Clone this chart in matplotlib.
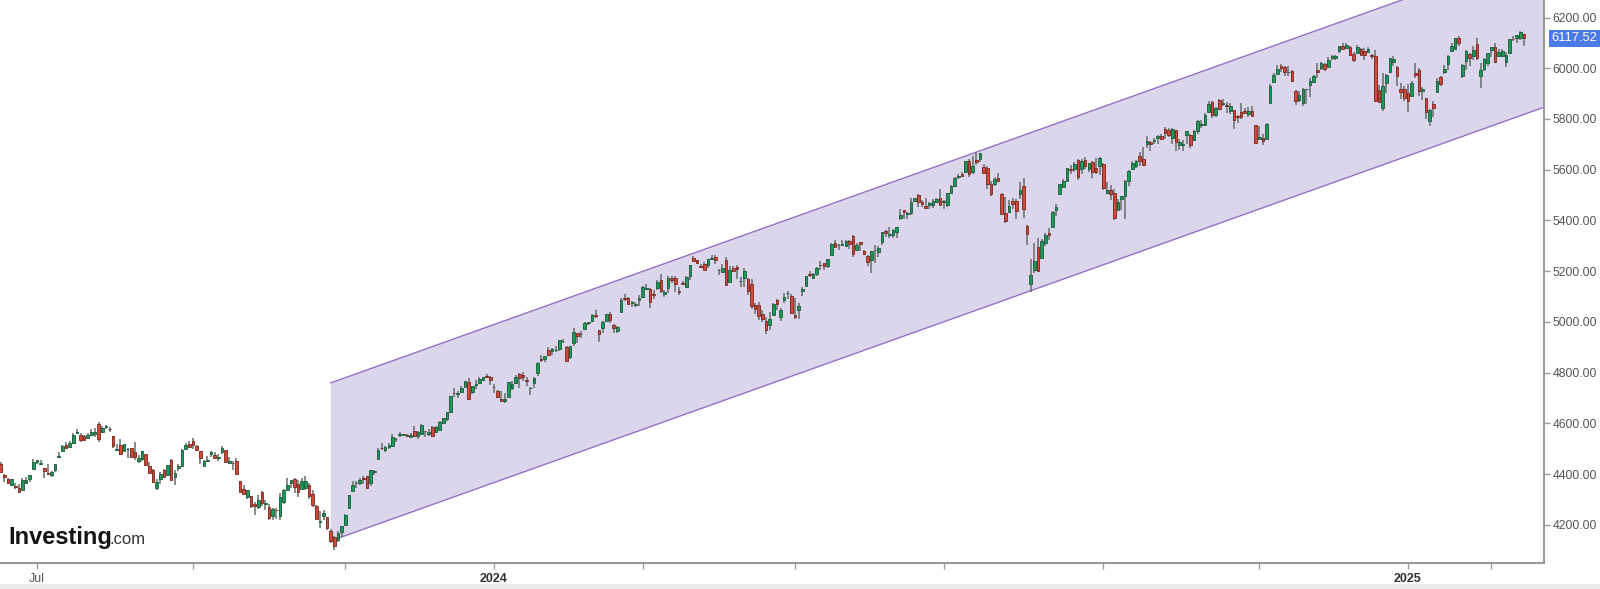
import numpy as np
import pandas as pd
import matplotlib
matplotlib.use("Agg")
import matplotlib.pyplot as plt
import matplotlib.transforms as mtransforms
from matplotlib.patches import Rectangle

plt.rcParams['font.family'] = ['Liberation Sans', 'DejaVu Sans']

# daily candles (open, high, low, close), estimated from the chart
jun_2023 = [(4440, 4449, 4407, 4410), (4396, 4401, 4371, 4389), (4380, 4386, 4360, 4366),
            (4356, 4382, 4352, 4382), (4355, 4367, 4341, 4348), (4344, 4363, 4328, 4328),
            (4337, 4384, 4336, 4378), (4367, 4390, 4360, 4376), (4383, 4398, 4371, 4396),
            (4422, 4458, 4422, 4450)]
jul_2023 = [(4450, 4456, 4442, 4455), (4442, 4454, 4436, 4446), (4423, 4423, 4385, 4411),
            (4405, 4440, 4398, 4399), (4395, 4412, 4389, 4409), (4416, 4440, 4408, 4439),
            (4467, 4488, 4463, 4472), (4492, 4517, 4490, 4510), (4514, 4527, 4500, 4505),
            (4508, 4532, 4504, 4522), (4522, 4562, 4519, 4555), (4563, 4578, 4557, 4566),
            (4554, 4564, 4527, 4534), (4550, 4555, 4532, 4536), (4543, 4564, 4541, 4554),
            (4555, 4580, 4552, 4567), (4558, 4582, 4547, 4566), (4598, 4607, 4528, 4537),
            (4565, 4590, 4563, 4582), (4585, 4595, 4580, 4589)]
aug_2023 = [(4578, 4585, 4567, 4577), (4551, 4551, 4505, 4513), (4494, 4520, 4490, 4501),
            (4514, 4540, 4474, 4478), (4492, 4520, 4491, 4518), (4498, 4503, 4464, 4499),
            (4502, 4502, 4462, 4468), (4488, 4527, 4457, 4469), (4451, 4476, 4444, 4464),
            (4459, 4490, 4453, 4490), (4479, 4479, 4433, 4437), (4434, 4449, 4404, 4404),
            (4416, 4421, 4365, 4370), (4344, 4382, 4336, 4370), (4380, 4408, 4360, 4400),
            (4416, 4419, 4384, 4388), (4397, 4437, 4397, 4436), (4456, 4458, 4375, 4376),
            (4389, 4418, 4356, 4406), (4426, 4440, 4412, 4433), (4433, 4500, 4431, 4497),
            (4501, 4522, 4497, 4514), (4518, 4532, 4507, 4508)]
sep_2023 = [(4531, 4541, 4501, 4516), (4510, 4514, 4496, 4497), (4490, 4490, 4442, 4465),
            (4434, 4457, 4431, 4451), (4451, 4473, 4449, 4457), (4480, 4490, 4468, 4487),
            (4474, 4487, 4460, 4462), (4462, 4479, 4453, 4468), (4487, 4511, 4478, 4505),
            (4497, 4497, 4448, 4450), (4445, 4467, 4442, 4453), (4445, 4451, 4417, 4444),
            (4452, 4462, 4402, 4402), (4375, 4375, 4329, 4330), (4342, 4357, 4317, 4320),
            (4311, 4339, 4303, 4337), (4313, 4315, 4265, 4274), (4282, 4292, 4239, 4275),
            (4270, 4318, 4264, 4300), (4328, 4333, 4274, 4288)]
oct_2023 = [(4284, 4300, 4260, 4288), (4269, 4281, 4220, 4229), (4234, 4268, 4220, 4263),
            (4260, 4268, 4225, 4258), (4234, 4324, 4219, 4309), (4289, 4341, 4284, 4336),
            (4339, 4385, 4339, 4358), (4367, 4378, 4346, 4377), (4381, 4385, 4325, 4350),
            (4360, 4377, 4311, 4328), (4342, 4384, 4342, 4374), (4346, 4394, 4338, 4374),
            (4357, 4364, 4304, 4315), (4321, 4339, 4269, 4278), (4274, 4277, 4223, 4224),
            (4210, 4255, 4189, 4217), (4235, 4259, 4219, 4248), (4232, 4232, 4181, 4186),
            (4175, 4183, 4127, 4137), (4152, 4157, 4103, 4117), (4140, 4178, 4132, 4167),
            (4172, 4194, 4153, 4194)]
nov_2023 = [(4201, 4245, 4197, 4238), (4268, 4319, 4268, 4318), (4335, 4373, 4334, 4358),
            (4365, 4372, 4347, 4366), (4366, 4386, 4356, 4378), (4385, 4391, 4360, 4383),
            (4391, 4394, 4344, 4347), (4364, 4418, 4354, 4415), (4407, 4415, 4396, 4412),
            (4458, 4504, 4458, 4496), (4505, 4522, 4494, 4503), (4497, 4511, 4486, 4509),
            (4509, 4521, 4499, 4514), (4511, 4557, 4511, 4547), (4538, 4542, 4526, 4538),
            (4553, 4568, 4545, 4557), (4555, 4560, 4553, 4559), (4555, 4560, 4545, 4551),
            (4546, 4562, 4541, 4555), (4571, 4588, 4547, 4551), (4549, 4570, 4537, 4568)]
dec_2023 = [(4560, 4596, 4557, 4595), (4570, 4572, 4546, 4569), (4557, 4579, 4552, 4567),
            (4587, 4590, 4547, 4549), (4568, 4590, 4565, 4585), (4576, 4610, 4574, 4604),
            (4601, 4623, 4600, 4622), (4618, 4644, 4610, 4644), (4646, 4709, 4643, 4707),
            (4721, 4739, 4704, 4719), (4715, 4726, 4702, 4719), (4725, 4749, 4725, 4740),
            (4743, 4769, 4743, 4768), (4765, 4778, 4697, 4698), (4725, 4749, 4717, 4746),
            (4753, 4772, 4737, 4755), (4758, 4784, 4758, 4775), (4773, 4785, 4768, 4782),
            (4786, 4793, 4780, 4783), (4783, 4789, 4751, 4770)]
jan_2024 = [(4745, 4755, 4722, 4743), (4726, 4730, 4700, 4705), (4698, 4727, 4687, 4688),
            (4690, 4721, 4682, 4697), (4703, 4764, 4699, 4764), (4741, 4766, 4731, 4757),
            (4760, 4791, 4756, 4783), (4793, 4798, 4740, 4780), (4791, 4802, 4768, 4784),
            (4773, 4782, 4748, 4766), (4739, 4744, 4714, 4739), (4761, 4785, 4740, 4780),
            (4797, 4843, 4786, 4840), (4853, 4868, 4844, 4850), (4856, 4866, 4842, 4864),
            (4888, 4903, 4866, 4869), (4886, 4898, 4870, 4894), (4888, 4907, 4881, 4891),
            (4892, 4929, 4887, 4928), (4925, 4932, 4916, 4925), (4900, 4907, 4845, 4846)]
feb_2024 = [(4862, 4906, 4853, 4906), (4916, 4975, 4907, 4959), (4957, 4958, 4918, 4943),
            (4951, 4964, 4938, 4954), (4973, 4999, 4970, 4995), (4996, 5000, 4987, 4998),
            (5005, 5031, 4999, 5027), (5027, 5048, 5016, 5022), (4967, 4969, 4920, 4953),
            (4976, 5002, 4955, 5001), (5004, 5033, 4999, 5030), (5032, 5039, 4995, 5006),
            (4989, 4993, 4956, 4976), (4964, 4984, 4956, 4982), (5039, 5094, 5038, 5087),
            (5093, 5111, 5081, 5089), (5093, 5097, 5068, 5070), (5074, 5081, 5058, 5078),
            (5067, 5077, 5058, 5069), (5085, 5105, 5061, 5096)]
mar_2024 = [(5098, 5141, 5094, 5137), (5131, 5149, 5128, 5131), (5130, 5134, 5056, 5079),
            (5109, 5127, 5092, 5105), (5133, 5165, 5126, 5157), (5165, 5190, 5114, 5124),
            (5112, 5125, 5100, 5117), (5134, 5180, 5116, 5175), (5174, 5180, 5153, 5165),
            (5175, 5180, 5119, 5150), (5124, 5136, 5105, 5117), (5154, 5162, 5145, 5149),
            (5139, 5180, 5138, 5179), (5182, 5225, 5164, 5225), (5253, 5261, 5240, 5241),
            (5243, 5246, 5229, 5234), (5219, 5229, 5216, 5218), (5228, 5236, 5203, 5203),
            (5226, 5249, 5214, 5248), (5248, 5264, 5246, 5254)]
apr_2024 = [(5258, 5263, 5229, 5243), (5204, 5208, 5185, 5205), (5195, 5229, 5194, 5211),
            (5245, 5256, 5146, 5147), (5158, 5222, 5157, 5204), (5212, 5219, 5198, 5202),
            (5218, 5225, 5168, 5209), (5161, 5178, 5139, 5161), (5172, 5212, 5139, 5199),
            (5171, 5175, 5108, 5123), (5150, 5168, 5052, 5061), (5065, 5076, 5033, 5051),
            (5068, 5077, 5007, 5022), (5032, 5046, 5001, 5011), (5005, 5019, 4953, 4967),
            (4988, 5038, 4969, 5010), (5028, 5076, 5028, 5070), (5085, 5089, 5047, 5072),
            (5019, 5057, 5002, 5048), (5085, 5114, 5073, 5100), (5114, 5123, 5089, 5116),
            (5103, 5110, 5035, 5036)]
may_2024 = [(5029, 5096, 5013, 5018), (5049, 5073, 5011, 5064), (5122, 5139, 5101, 5128),
            (5142, 5181, 5142, 5181), (5188, 5200, 5178, 5187), (5173, 5192, 5171, 5188),
            (5190, 5215, 5182, 5214), (5226, 5239, 5204, 5223), (5233, 5234, 5206, 5221),
            (5221, 5250, 5212, 5247), (5264, 5311, 5263, 5308), (5310, 5325, 5296, 5297),
            (5303, 5306, 5283, 5303), (5305, 5325, 5299, 5308), (5298, 5324, 5297, 5321),
            (5320, 5323, 5287, 5307), (5340, 5341, 5257, 5268), (5282, 5311, 5278, 5305),
            (5315, 5315, 5279, 5306), (5278, 5282, 5262, 5267), (5260, 5263, 5222, 5235),
            (5244, 5280, 5192, 5278)]
jun_2024 = [(5283, 5302, 5234, 5283), (5275, 5298, 5257, 5291), (5315, 5355, 5303, 5354),
            (5357, 5362, 5335, 5352), (5344, 5376, 5331, 5347), (5341, 5365, 5331, 5361),
            (5353, 5376, 5332, 5375), (5409, 5447, 5403, 5421), (5441, 5442, 5404, 5434),
            (5424, 5432, 5404, 5431), (5431, 5488, 5421, 5473), (5476, 5490, 5471, 5487),
            (5499, 5506, 5455, 5473), (5471, 5479, 5453, 5464), (5459, 5490, 5447, 5448),
            (5460, 5472, 5446, 5469), (5460, 5483, 5451, 5478), (5474, 5490, 5470, 5483),
            (5488, 5524, 5460, 5460)]
jul_2024 = [(5471, 5479, 5446, 5475), (5462, 5510, 5452, 5509), (5507, 5539, 5507, 5537),
            (5537, 5570, 5531, 5567), (5572, 5583, 5562, 5572), (5584, 5590, 5574, 5577),
            (5591, 5635, 5587, 5633), (5635, 5642, 5571, 5585), (5590, 5655, 5584, 5615),
            (5638, 5670, 5620, 5631), (5644, 5667, 5632, 5667), (5610, 5622, 5584, 5589),
            (5608, 5615, 5523, 5544), (5543, 5557, 5498, 5505), (5544, 5571, 5536, 5564),
            (5566, 5586, 5552, 5555), (5506, 5508, 5424, 5427), (5429, 5491, 5391, 5399),
            (5434, 5481, 5428, 5459), (5477, 5487, 5444, 5464), (5478, 5486, 5404, 5436),
            (5505, 5551, 5485, 5522)]
aug_2024 = [(5537, 5566, 5410, 5446), (5377, 5383, 5302, 5346), (5151, 5250, 5120, 5186),
            (5206, 5312, 5194, 5240), (5294, 5330, 5195, 5199), (5252, 5328, 5251, 5319),
            (5311, 5351, 5300, 5344), (5352, 5372, 5324, 5344), (5376, 5436, 5376, 5434),
            (5443, 5464, 5416, 5455), (5505, 5544, 5503, 5543), (5530, 5562, 5528, 5554),
            (5557, 5608, 5551, 5608), (5602, 5620, 5585, 5597), (5603, 5632, 5592, 5621),
            (5637, 5643, 5561, 5571), (5602, 5641, 5585, 5635), (5640, 5651, 5602, 5616),
            (5602, 5628, 5590, 5625), (5629, 5636, 5567, 5592), (5607, 5646, 5585, 5592),
            (5613, 5651, 5581, 5648)]
sep_2024 = [(5624, 5626, 5520, 5528), (5507, 5553, 5505, 5520), (5521, 5541, 5481, 5503),
            (5507, 5523, 5402, 5408), (5443, 5485, 5443, 5471), (5483, 5497, 5441, 5496),
            (5496, 5560, 5406, 5554), (5557, 5600, 5536, 5596), (5603, 5636, 5602, 5626),
            (5615, 5637, 5605, 5633), (5655, 5671, 5615, 5634), (5641, 5690, 5615, 5618),
            (5703, 5733, 5686, 5713), (5709, 5715, 5675, 5703), (5713, 5725, 5701, 5718),
            (5727, 5736, 5702, 5732), (5734, 5741, 5717, 5722), (5762, 5767, 5722, 5745),
            (5756, 5764, 5730, 5738), (5727, 5765, 5703, 5762)]
oct_2024 = [(5757, 5758, 5675, 5709), (5698, 5720, 5678, 5709), (5698, 5718, 5675, 5700),
            (5737, 5753, 5703, 5751), (5737, 5739, 5684, 5696), (5719, 5757, 5714, 5751),
            (5751, 5797, 5739, 5792), (5778, 5796, 5764, 5780), (5775, 5823, 5774, 5815),
            (5829, 5871, 5825, 5859), (5866, 5871, 5804, 5815), (5816, 5846, 5809, 5843),
            (5875, 5879, 5837, 5841), (5860, 5878, 5851, 5864), (5857, 5867, 5824, 5853),
            (5833, 5864, 5821, 5851), (5835, 5835, 5762, 5797), (5813, 5817, 5784, 5809),
            (5827, 5862, 5800, 5808), (5833, 5843, 5823, 5823), (5819, 5848, 5809, 5832),
            (5832, 5851, 5811, 5813), (5775, 5776, 5702, 5705)]
nov_2024 = [(5723, 5772, 5723, 5729), (5725, 5742, 5696, 5712), (5722, 5784, 5722, 5782),
            (5864, 5936, 5864, 5929), (5947, 5983, 5946, 5973), (5977, 6012, 5976, 5996),
            (6008, 6018, 5987, 6001), (6003, 6010, 5969, 5984), (5985, 6009, 5971, 5985),
            (5989, 5993, 5946, 5949), (5912, 5916, 5854, 5871), (5875, 5910, 5866, 5893),
            (5864, 5923, 5853, 5917), (5917, 5920, 5860, 5917), (5934, 5963, 5886, 5949),
            (5944, 5972, 5942, 5969), (5992, 6020, 5963, 5987), (6000, 6025, 5992, 6021),
            (6015, 6021, 5989, 5999), (6003, 6044, 6003, 6032)]
dec_2024 = [(6041, 6053, 6033, 6047), (6042, 6052, 6031, 6050), (6069, 6089, 6062, 6087),
            (6089, 6099, 6074, 6075), (6081, 6099, 6079, 6090), (6083, 6088, 6048, 6053),
            (6058, 6066, 6024, 6034), (6061, 6092, 6059, 6085), (6074, 6079, 6051, 6051),
            (6068, 6078, 6034, 6051), (6063, 6085, 6059, 6074), (6052, 6057, 6035, 6050),
            (6047, 6071, 5867, 5872), (5913, 5935, 5866, 5867), (5843, 5982, 5832, 5931),
            (5941, 5978, 5903, 5975), (5985, 6040, 5983, 6040), (6025, 6049, 6007, 6037),
            (6006, 6007, 5932, 5971), (5920, 5941, 5880, 5907), (5920, 5930, 5869, 5882)]
jan_2025 = [(5903, 5936, 5829, 5869), (5892, 5950, 5888, 5942), (5982, 6022, 5961, 5975),
            (5994, 6000, 5891, 5909), (5911, 5928, 5875, 5918), (5882, 5882, 5800, 5827),
            (5794, 5838, 5774, 5836), (5859, 5871, 5807, 5843), (5905, 5960, 5905, 5950),
            (5967, 5968, 5931, 5937), (5987, 6011, 5979, 5997), (6015, 6051, 5994, 6049),
            (6068, 6100, 6066, 6086), (6076, 6119, 6074, 6119), (6121, 6128, 6089, 6101),
            (5970, 6017, 5962, 6012), (6027, 6072, 5994, 6068), (6057, 6062, 6007, 6039),
            (6050, 6087, 6031, 6071), (6096, 6121, 6031, 6041)]
feb_2025 = [(5970, 6022, 5924, 5994), (5998, 6042, 5990, 6038), (6020, 6062, 6007, 6061),
            (6073, 6084, 6045, 6084), (6083, 6101, 6020, 6026), (6050, 6074, 6046, 6066),
            (6049, 6076, 6043, 6069), (6025, 6064, 6003, 6052), (6061, 6117, 6061, 6115),
            (6116, 6127, 6108, 6115), (6121, 6130, 6098, 6130), (6118, 6147, 6112, 6144),
            (6134, 6135, 6089, 6117.52)]

months = [jun_2023, jul_2023, aug_2023, sep_2023, oct_2023, nov_2023, dec_2023,
          jan_2024, feb_2024, mar_2024, apr_2024, may_2024, jun_2024, jul_2024,
          aug_2024, sep_2024, oct_2024, nov_2024, dec_2024, jan_2025, feb_2025]

market_holidays = ["2023-06-19", "2023-07-04", "2023-09-04", "2023-11-23", "2023-12-25",
                   "2024-01-01", "2024-01-15", "2024-02-19", "2024-03-29", "2024-05-27",
                   "2024-06-19", "2024-07-04", "2024-09-02", "2024-11-28", "2024-12-25",
                   "2025-01-01", "2025-01-09", "2025-01-20", "2025-02-17"]

tick_dates = ["2023-07-01", "2023-09-01", "2023-11-01", "2024-01-01", "2024-03-01",
              "2024-05-01", "2024-07-01", "2024-09-01", "2024-11-01", "2025-01-01",
              "2025-02-06"]
tick_labels = ["Jul", "", "", "2024", "", "", "", "", "", "2025", ""]

# rising channel drawn from the October 2023 low
channel_start = "2023-10-26"
channel_lower = 4137
channel_upper = 4760
channel_slope = 5.11   # points per trading day

y_ticks = [4200, 4400, 4600, 4800, 5000, 5200, 5400, 5600, 5800, 6000, 6200]

candles = np.array(sum(months, []), dtype=float)
dates = pd.bdate_range("2023-06-16", "2025-02-20")
dates = dates[~dates.isin(pd.to_datetime(market_holidays))]
n = min(len(dates), len(candles))
candles = candles[:n]
dates = dates[:n]

x = np.arange(n)
o, h, l, c = candles.T
up = c >= o

fig = plt.figure(figsize=(16, 5.89), dpi=100)
ax = fig.add_axes([0, 26 / 589, 1544 / 1600, 563 / 589])

x_left, x_right = -0.2, 425.5

# channel
i0 = int(np.searchsorted(dates, pd.Timestamp(channel_start)))
cx = np.array([i0, x_right + 10])
lower = channel_lower + channel_slope * (cx - i0)
upper = channel_upper + channel_slope * (cx - i0)
ax.fill_between(cx, lower, upper, color='#dcd6ec', linewidth=0, zorder=1)
ax.plot(cx, lower, color='#9670c4', linewidth=1.0, zorder=1.5)
ax.plot(cx, upper, color='#9670c4', linewidth=1.0, zorder=1.5)

# candles
ax.vlines(x, l, h, color='#66706b', linewidth=1.1, zorder=2)
body = np.maximum(np.abs(c - o), 1.5)
ax.bar(x[up], body[up], bottom=o[up], width=0.72, color='#1c9a58',
       edgecolor='#1a5a3a', linewidth=0.6, zorder=3)
ax.bar(x[~up], body[~up], bottom=c[~up], width=0.72, color='#cf4a3b',
       edgecolor='#7a261c', linewidth=0.6, zorder=3)

ax.set_xlim(x_left, x_right)
ax.set_ylim(4050, 6269)

for s in ['top', 'left']:
    ax.spines[s].set_visible(False)
for s in ['right', 'bottom']:
    ax.spines[s].set_color('#9a9a9a')
    ax.spines[s].set_linewidth(1.5)

ax.yaxis.tick_right()
ax.set_yticks(y_ticks)
ax.set_yticklabels([f"{v:.2f}" for v in y_ticks])
ax.tick_params(axis='y', length=4, width=1, color='#9a9a9a', labelcolor='#555555',
               labelsize=8.8, pad=2)

tick_idx = [int(np.searchsorted(dates, pd.Timestamp(d))) for d in tick_dates]
ax.set_xticks(tick_idx)
ax.set_xticklabels(tick_labels)
ax.tick_params(axis='x', length=4, width=1, color='#9a9a9a', labelcolor='#555555',
               labelsize=9, pad=3)
for lab in ax.get_xticklabels():
    if lab.get_text().isdigit():
        lab.set_fontweight('bold')
        lab.set_color('#333333')

# last price tag
trans = mtransforms.blended_transform_factory(ax.transAxes, ax.transData)
ax.text(1.0048, c[-1], f"{c[-1]:.2f}", transform=trans, ha='left', va='center',
        color='white', fontsize=9.4, clip_on=False, zorder=5,
        bbox=dict(boxstyle='square,pad=0.22', facecolor='#4a7be6', edgecolor='none'))

# watermark
fig.text(8 / 1600, (589 - 544) / 589, "Investing", fontsize=17, fontweight='bold',
         color='#141414', va='baseline')
fig.text(109 / 1600, (589 - 544) / 589, ".com", fontsize=12, color='#333333',
         va='baseline')

fig.patches.append(Rectangle((0, 0), 1, 5 / 589, transform=fig.transFigure,
                             facecolor='#ebebeb', edgecolor='none'))

fig.savefig("out.png", dpi=100)
